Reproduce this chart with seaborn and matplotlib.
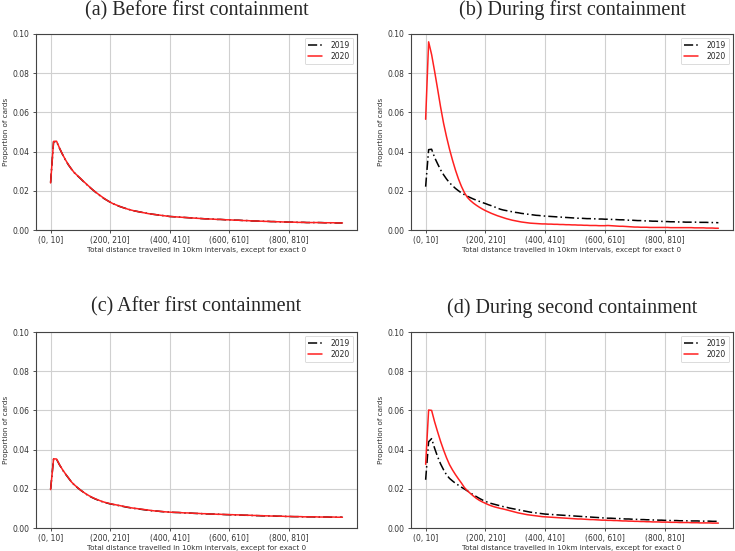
import numpy as np
import pandas as pd
import seaborn as sns
import matplotlib.pyplot as plt

# distance bins (0,10], (10,20], ... (980,990]
bins = [f"({lo}, {lo + 10}]" for lo in range(0, 990, 10)]
tick_every = 20

titles = ['(a) Before first containment', '(b) During first containment',
          '(c) After first containment', '(d) During second containment']

before_2020 = [
    .0240, .0452, .0453, .0418, .0386, .0358, .0333, .0311, .0292, .0278,
    .0264, .0249, .0235, .0221, .0207, .0195, .0183, .0172, .0161, .0151,
    .0142, .0134, .0128, .0122, .0116, .0111, .0106, .0102, .0098, .0095,
    .0092, .0089, .0086, .0083, .0081, .0079, .0077, .0075, .0073, .0071,
    .0069, .0068, .0067, .0066, .0065, .0064, .0063, .0062, .0061, .0060,
    .0059, .0058, .0057, .0056, .0056, .0055, .0054, .0054, .0053, .0052,
    .0052, .0051, .0050, .0050, .0049, .0048, .0048, .0047, .0046, .0046,
    .0045, .0045, .0044, .0044, .0043, .0043, .0042, .0042, .0041, .0041,
    .0040, .0040, .0040, .0039, .0039, .0039, .0038, .0038, .0038, .0038,
    .0038, .0037, .0037, .0037, .0037, .0037, .0036, .0036, .0036]
before_2019 = [
    .0242, .0450, .0451, .0417, .0386, .0357, .0332, .0311, .0292, .0277,
    .0263, .0248, .0234, .0220, .0207, .0194, .0182, .0171, .0160, .0151,
    .0142, .0134, .0128, .0121, .0116, .0111, .0106, .0102, .0098, .0095,
    .0092, .0089, .0086, .0084, .0081, .0079, .0077, .0075, .0073, .0071,
    .0069, .0068, .0067, .0066, .0065, .0064, .0063, .0062, .0061, .0060,
    .0059, .0058, .0057, .0057, .0056, .0055, .0054, .0054, .0053, .0052,
    .0052, .0051, .0050, .0050, .0049, .0048, .0048, .0047, .0046, .0046,
    .0045, .0045, .0044, .0044, .0043, .0043, .0042, .0042, .0041, .0041,
    .0040, .0040, .0040, .0039, .0039, .0039, .0038, .0038, .0038, .0038,
    .0038, .0038, .0037, .0037, .0037, .0037, .0036, .0036, .0036]

during1_2020 = [
    .0565, .0960, .0895, .0810, .0720, .0628, .0545, .0475, .0412, .0356,
    .0305, .0260, .0222, .0190, .0166, .0150, .0137, .0126, .0116, .0107,
    .0099, .0092, .0085, .0079, .0073, .0068, .0063, .0058, .0054, .0050,
    .0047, .0044, .0041, .0039, .0037, .0035, .0034, .0033, .0032, .0031,
    .0031, .0030, .0030, .0029, .0029, .0028, .0028, .0027, .0027, .0026,
    .0026, .0025, .0025, .0024, .0024, .0023, .0023, .0023, .0022, .0022,
    .0022, .0023, .0022, .0021, .0020, .0019, .0019, .0018, .0017, .0016,
    .0015, .0015, .0014, .0014, .0014, .0013, .0013, .0013, .0013, .0013,
    .0013, .0013, .0012, .0012, .0012, .0012, .0012, .0012, .0012, .0012,
    .0011, .0011, .0011, .0011, .0010, .0010, .0010, .0009, .0009]
during1_2019 = [
    .0221, .0410, .0412, .0370, .0338, .0307, .0282, .0260, .0241, .0226,
    .0212, .0200, .0189, .0180, .0172, .0165, .0158, .0152, .0146, .0140,
    .0135, .0129, .0124, .0118, .0112, .0106, .0102, .0099, .0096, .0093,
    .0090, .0088, .0085, .0083, .0081, .0079, .0077, .0075, .0074, .0072,
    .0071, .0070, .0069, .0068, .0067, .0066, .0065, .0064, .0063, .0062,
    .0061, .0060, .0060, .0059, .0058, .0058, .0057, .0057, .0056, .0056,
    .0055, .0055, .0054, .0054, .0053, .0052, .0052, .0051, .0050, .0050,
    .0049, .0048, .0048, .0047, .0046, .0046, .0045, .0045, .0044, .0044,
    .0043, .0043, .0042, .0042, .0041, .0041, .0041, .0040, .0040, .0040,
    .0040, .0040, .0039, .0039, .0039, .0038, .0038, .0038, .0037]

after_2020 = [
    .0196, .0353, .0352, .0323, .0298, .0276, .0256, .0235, .0220, .0207,
    .0194, .0183, .0173, .0164, .0156, .0149, .0143, .0137, .0132, .0128,
    .0124, .0121, .0118, .0115, .0112, .0109, .0106, .0103, .0101, .0099,
    .0097, .0095, .0093, .0091, .0089, .0087, .0086, .0085, .0083, .0082,
    .0081, .0080, .0080, .0079, .0078, .0077, .0077, .0076, .0075, .0075,
    .0074, .0073, .0073, .0072, .0071, .0071, .0070, .0070, .0069, .0069,
    .0068, .0068, .0067, .0067, .0066, .0066, .0065, .0065, .0064, .0064,
    .0063, .0063, .0062, .0062, .0061, .0061, .0061, .0060, .0060, .0059,
    .0059, .0059, .0058, .0058, .0058, .0057, .0057, .0057, .0057, .0057,
    .0056, .0056, .0056, .0056, .0056, .0056, .0055, .0055, .0055]
after_2019 = [
    .0198, .0351, .0351, .0322, .0297, .0275, .0255, .0235, .0219, .0206,
    .0194, .0183, .0172, .0163, .0155, .0148, .0142, .0136, .0131, .0127,
    .0123, .0120, .0117, .0114, .0111, .0108, .0105, .0103, .0100, .0098,
    .0096, .0094, .0092, .0090, .0088, .0087, .0086, .0084, .0083, .0082,
    .0081, .0080, .0079, .0079, .0078, .0077, .0076, .0076, .0075, .0074,
    .0074, .0073, .0072, .0072, .0071, .0071, .0070, .0070, .0069, .0068,
    .0068, .0067, .0067, .0066, .0066, .0065, .0065, .0064, .0064, .0063,
    .0063, .0062, .0062, .0062, .0061, .0061, .0060, .0060, .0060, .0059,
    .0059, .0058, .0058, .0058, .0058, .0057, .0057, .0057, .0057, .0056,
    .0056, .0056, .0056, .0056, .0055, .0055, .0055, .0055, .0055]

during2_2020 = [
    .0325, .0602, .0600, .0542, .0491, .0442, .0398, .0358, .0323, .0296,
    .0272, .0250, .0229, .0206, .0190, .0176, .0163, .0151, .0141, .0133,
    .0126, .0119, .0113, .0108, .0104, .0100, .0097, .0093, .0089, .0085,
    .0081, .0077, .0074, .0071, .0068, .0066, .0064, .0062, .0060, .0058,
    .0057, .0056, .0055, .0054, .0053, .0052, .0051, .0050, .0049, .0048,
    .0047, .0046, .0046, .0045, .0044, .0043, .0043, .0042, .0041, .0040,
    .0040, .0039, .0039, .0038, .0038, .0037, .0036, .0036, .0035, .0035,
    .0034, .0034, .0033, .0033, .0032, .0032, .0031, .0031, .0031, .0030,
    .0030, .0030, .0029, .0029, .0029, .0028, .0028, .0028, .0028, .0027,
    .0027, .0027, .0026, .0026, .0026, .0026, .0025, .0025, .0025]
during2_2019 = [
    .0246, .0440, .0456, .0407, .0364, .0327, .0297, .0271, .0253, .0240,
    .0228, .0218, .0208, .0199, .0189, .0179, .0169, .0160, .0151, .0143,
    .0136, .0130, .0125, .0121, .0117, .0113, .0109, .0106, .0102, .0099,
    .0096, .0093, .0090, .0087, .0084, .0081, .0079, .0077, .0075, .0073,
    .0071, .0070, .0069, .0068, .0067, .0066, .0065, .0064, .0063, .0062,
    .0061, .0060, .0059, .0058, .0057, .0056, .0055, .0054, .0053, .0052,
    .0051, .0050, .0050, .0049, .0048, .0048, .0047, .0046, .0046, .0045,
    .0044, .0044, .0043, .0043, .0042, .0042, .0041, .0041, .0040, .0040,
    .0039, .0039, .0038, .0038, .0038, .0037, .0037, .0037, .0036, .0036,
    .0036, .0036, .0035, .0035, .0035, .0035, .0034, .0034, .0034]

panels = [(before_2019, before_2020), (during1_2019, during1_2020),
          (after_2019, after_2020), (during2_2019, during2_2020)]

sns.set_style('ticks', {'axes.grid': True, 'grid.color': '#d0d0d0',
                        'axes.edgecolor': '#444444'})
plt.rcParams['font.family'] = ['DejaVu Sans']

fig = plt.figure(figsize=(7.35, 5.51), dpi=100)
W, H = 735, 551
# axes boxes in pixels: left, top, right, bottom
boxes = [(36, 34, 357, 230), (411, 34, 733, 230),
         (36, 332, 357, 528), (411, 332, 733, 528)]
title_y = [10.5, 10.5, 307, 308]

for k, (box, (v19, v20)) in enumerate(zip(boxes, panels)):
    l, t, r, b = box
    ax = fig.add_axes([l / W, 1 - b / H, (r - l) / W, (b - t) / H])
    df = pd.DataFrame({
        'bin': np.tile(np.arange(len(bins)), 2),
        'share': v19 + v20,
        'year': ['2019'] * len(v19) + ['2020'] * len(v20),
    })
    sns.lineplot(data=df, x='bin', y='share', hue='year', style='year',
                 palette={'2019': 'black', '2020': '#ff2020'},
                 dashes={'2019': (6, 2, 1, 2), '2020': ''},
                 linewidth=1.1, ax=ax)
    ax.set_ylim(0, 0.1)
    ax.set_yticks([0, 0.02, 0.04, 0.06, 0.08, 0.10])
    ax.set_yticklabels(['0.00', '0.02', '0.04', '0.06', '0.08', '0.10'])
    ax.set_xticks(range(0, len(bins), tick_every))
    ax.set_xticklabels(bins[::tick_every])
    ax.tick_params(labelsize=5.5, length=2.5, width=0.6, pad=2,
                   colors='#333333')
    ax.grid(True, linewidth=0.8)
    for sp in ax.spines.values():
        sp.set_linewidth(0.8)
    ax.set_xlabel('Total distance travelled in 10km intervals, except for exact 0',
                  fontsize=5.2, labelpad=1.5, color='#333333')
    ax.set_ylabel('Proportion of cards', fontsize=5.2, labelpad=3, color='#333333')
    leg = ax.legend(loc='upper right', fontsize=5.5, handlelength=1.9,
                    borderpad=0.4, labelspacing=0.3, handletextpad=1.1)
    leg.get_frame().set_linewidth(0.6)
    fig.text((l + r) / 2 / W, 1 - title_y[k] / H, titles[k],
             ha='center', va='center', fontsize=14.5,
             family=['Liberation Serif', 'DejaVu Serif'])

fig.savefig('out.png', dpi=100)
